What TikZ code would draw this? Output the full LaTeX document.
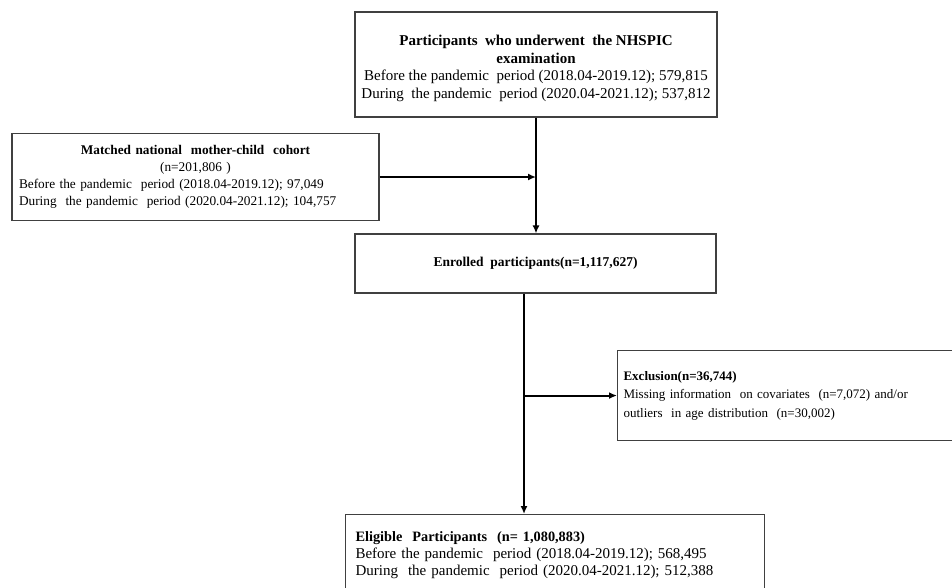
\documentclass[tikz,border=0pt]{standalone}
\usepackage{fontspec}
\setmainfont{Liberation Serif}
\usetikzlibrary{arrows.meta}
\definecolor{boxgray}{HTML}{404040}
\begin{document}
\begin{tikzpicture}[x=1pt,y=-1pt,
  box/.style={draw=boxgray, line width=1.1pt, rectangle, inner sep=0pt},
  arr/.style={-{Latex[length=8pt,width=7pt]}, line width=2pt, black}]
\useasboundingbox (0,0) rectangle (952,587);
\clip (0,0) rectangle (952,587);
\fill[white] (0,0) rectangle (952,587);

\node[box, minimum width=362pt, minimum height=105pt, align=center,
  font=\fontsize{15}{17.7}\selectfont] (top) at (536,64.5)
 {\rule{0pt}{18.5pt}\textbf{Participants\ \ who underwent\ \ the NHSPIC}\\ \textbf{examination}\\
  Before\ the pandemic\ \ period (2018.04-2019.12); 579,815\\
  During\ \ the pandemic\ \ period (2020.04-2021.12); 537,812};

\node[box, minimum width=367pt, minimum height=87pt, text width=353pt, align=left,
  font=\fontsize{13.3}{17}\selectfont] (left) at (195.5,177)
 {{\centering\textbf{Matched national\ \ mother-child\ \ cohort}\par}
  {\centering (n=201,806 )\par}
  Before\ the pandemic\ \ period (2018.04-2019.12); 97,049\\
  During\ \ the pandemic\ \ period (2020.04-2021.12); 104,757};

\node[box, minimum width=361pt, minimum height=59pt,
  font=\fontsize{13.5}{17}\selectfont] (enr) at (535.5,263.5)
 {\textbf{Enrolled\ \ participants(n=1,117,627)}};

\node[box, anchor=north west, minimum width=400pt, minimum height=90pt, text width=388pt, align=left,
  font=\fontsize{13}{18.5}\selectfont] (excl) at (617,350)
 {\textbf{Exclusion(n=36,744)}\\
  Missing\ information\ \ on covariates\ \ (n=7,072) and/or\\
  outliers\ \ in\ age distribution\ \ (n=30,002)};

\node[box, anchor=north west, minimum width=419pt, minimum height=82pt, text width=399pt, align=left,
  font=\fontsize{15}{17}\selectfont] (elig) at (345,514)
 {{\fontsize{14.3}{17}\selectfont\textbf{Eligible\ \ Participants\ \ (n= 1,080,883)}}\\
  Before\ the pandemic\ \ period (2018.04-2019.12); 568,495\\
  During\ \ the pandemic\ \ period (2020.04-2021.12); 512,388};

\coordinate (ls) at ([xshift=-11.5pt]enr.south);

\draw[arr] (top.south) -- (top.south |- enr.north);
\draw[arr] (left.east) -- (left.east -| top.south);
\draw[arr] (ls) -- (ls |- elig.north);
\draw[arr] (ls |- excl.west) -- (excl.west);
\end{tikzpicture}
\end{document}
